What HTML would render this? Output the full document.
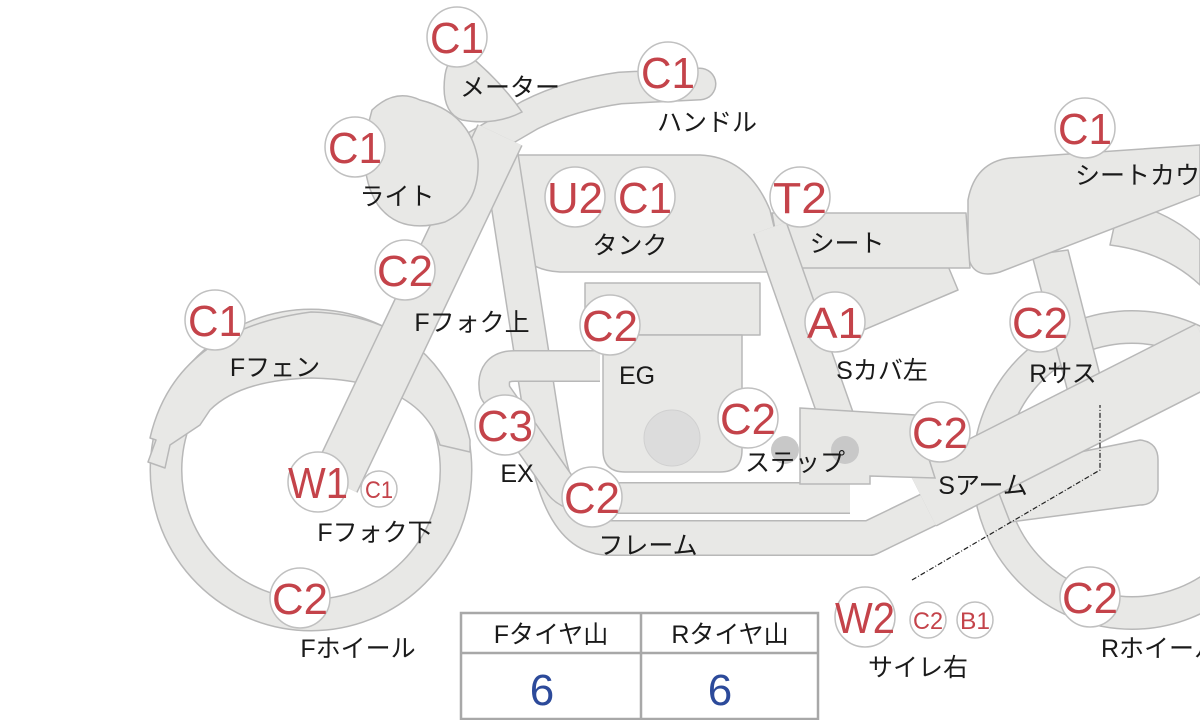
<!DOCTYPE html>
<html><head><meta charset="utf-8"><style>
html,body{margin:0;padding:0;background:#fff;}
svg{display:block;}
.b text{font-family:"Liberation Sans Narrow","Liberation Sans",sans-serif;fill:#c4434a;}
.l{font-family:"Liberation Sans","Noto Sans CJK JP",sans-serif;font-size:25px;fill:#1a1a1a;}
</style></head><body>
<svg width="1200" height="720" viewBox="0 0 1200 720" xmlns="http://www.w3.org/2000/svg">
<g fill="none" stroke-linejoin="round">
<circle cx="1132" cy="470" r="143" stroke="#b8b8b8" stroke-width="34"/>
<circle cx="1132" cy="470" r="143" stroke="#e8e8e6" stroke-width="31"/>
<circle cx="311" cy="470" r="145" stroke="#b8b8b8" stroke-width="33"/>
<circle cx="311" cy="470" r="145" stroke="#e8e8e6" stroke-width="30"/>
</g>
<g fill="#e8e8e6" stroke="#b8b8b8" stroke-width="1.5" stroke-linejoin="round">
<path d="M148,462 L156,440 L150,438 Q175,330 311,312 Q440,315 470,440 L470,452 L440,445 Q420,380 311,378 Q240,380 210,410 L200,425 L170,445 L165,468 Z"/>
<path d="M1120,200 Q1170,212 1200,240 L1200,285 Q1165,252 1110,245 Z"/>
<path d="M1032,255 L1068,250 L1105,395 L1070,400 Z"/>
<path d="M968,200 Q975,162 1010,158 L1200,145 L1200,195 L1000,272 Q972,280 968,255 Z"/>
<path d="M790,266 L948,266 L958,290 L840,340 L815,338 Z"/>
<path d="M772,213 L966,213 L970,268 L782,268 Z"/>
<path d="M513,155 L700,155 Q748,157 770,210 L785,272 L560,272 Q518,270 510,230 Z"/>
<rect x="585" y="283" width="175" height="52"/>
<path d="M603,335 L742,335 L742,450 Q742,472 720,472 L625,472 Q603,472 603,450 Z"/>
<path d="M990,470 L1140,440 Q1158,442 1158,460 L1158,490 Q1155,505 1140,505 L1010,522 Z"/>
</g>
<g fill="none" stroke-linecap="butt" stroke-linejoin="round">
<path d="M500,150 L545,440 Q560,538 610,538 L870,538 L965,492" stroke="#b8b8b8" stroke-width="36"/>
<path d="M500,150 L545,440 Q560,538 610,538 L870,538 L965,492" stroke="#e8e8e6" stroke-width="33"/>
<path d="M600,366 L515,366 Q490,366 495,392 L560,485 Q570,498 600,498 L850,498" stroke="#b8b8b8" stroke-width="32"/>
<path d="M600,366 L515,366 Q490,366 495,392 L560,485 Q570,498 600,498 L850,498" stroke="#e8e8e6" stroke-width="29"/>
<path d="M770,228 L855,470" stroke="#b8b8b8" stroke-width="36"/>
<path d="M770,228 L855,470" stroke="#e8e8e6" stroke-width="33"/>
<path d="M922,498 L1210,352" stroke="#b8b8b8" stroke-width="64"/>
<path d="M922,498 L1210,352" stroke="#e8e8e6" stroke-width="61"/>
<path d="M470,150 L530,115 Q570,95 620,88 L700,84" stroke="#b8b8b8" stroke-width="33" stroke-linecap="round"/>
<path d="M470,150 L530,115 Q570,95 620,88 L700,84" stroke="#e8e8e6" stroke-width="30" stroke-linecap="round"/>
<path d="M500,135 L335,482" stroke="#b8b8b8" stroke-width="50"/>
<path d="M500,135 L335,482" stroke="#e8e8e6" stroke-width="47"/>
</g>
<g fill="#e8e8e6" stroke="#b8b8b8" stroke-width="1.5">
<path d="M800,408 L915,415 L935,478 L870,476 L870,484 L800,484 Z"/>
<path d="M372,110 Q395,88 420,100 Q470,112 478,160 Q480,205 445,222 Q400,235 378,205 Q355,170 372,110 Z"/>
<path d="M445,75 Q448,55 465,52 Q500,80 522,112 Q495,126 462,120 Q440,112 445,75 Z"/>
</g>
<circle cx="672" cy="438" r="28" fill="#dcdcdc" stroke="#d0d0d0"/>
<circle cx="785" cy="450" r="14" fill="#c8c8c8"/>
<circle cx="845" cy="450" r="14" fill="#c8c8c8"/>
<path d="M912,580 L1100,470 L1100,405" fill="none" stroke="#222" stroke-width="1.2" stroke-dasharray="5,2,1,2"/>

<g class="b" stroke-width="1.5">
<g fill="#fff" stroke="#c0c0c0">
<circle cx="457" cy="37" r="30"/><circle cx="668" cy="72" r="30"/><circle cx="355" cy="147" r="30"/>
<circle cx="575" cy="197" r="30"/><circle cx="645" cy="197" r="30"/><circle cx="800" cy="197" r="30"/>
<circle cx="1085" cy="128" r="30"/><circle cx="405" cy="270" r="30"/><circle cx="215" cy="320" r="30"/>
<circle cx="610" cy="325" r="30"/><circle cx="835" cy="322" r="30"/><circle cx="1040" cy="322" r="30"/>
<circle cx="505" cy="425" r="30"/><circle cx="748" cy="418" r="30"/><circle cx="940" cy="432" r="30"/>
<circle cx="318" cy="482" r="30"/><circle cx="592" cy="497" r="30"/><circle cx="300" cy="598" r="30"/>
<circle cx="865" cy="617" r="30"/><circle cx="1090" cy="597" r="30"/>
<circle cx="379" cy="489" r="18"/><circle cx="928" cy="620" r="18"/><circle cx="975" cy="620" r="18"/>
</g>
<g font-size="44" text-anchor="middle" stroke="none">
<text x="457" y="53" textLength="54" lengthAdjust="spacingAndGlyphs">C1</text>
<text x="668" y="88" textLength="54" lengthAdjust="spacingAndGlyphs">C1</text>
<text x="355" y="163" textLength="54" lengthAdjust="spacingAndGlyphs">C1</text>
<text x="575" y="213" textLength="56" lengthAdjust="spacingAndGlyphs">U2</text>
<text x="645" y="213" textLength="54" lengthAdjust="spacingAndGlyphs">C1</text>
<text x="800" y="213" textLength="54" lengthAdjust="spacingAndGlyphs">T2</text>
<text x="1085" y="144" textLength="54" lengthAdjust="spacingAndGlyphs">C1</text>
<text x="405" y="286" textLength="56" lengthAdjust="spacingAndGlyphs">C2</text>
<text x="215" y="336" textLength="54" lengthAdjust="spacingAndGlyphs">C1</text>
<text x="610" y="341" textLength="56" lengthAdjust="spacingAndGlyphs">C2</text>
<text x="835" y="338" textLength="56" lengthAdjust="spacingAndGlyphs">A1</text>
<text x="1040" y="338" textLength="56" lengthAdjust="spacingAndGlyphs">C2</text>
<text x="505" y="441" textLength="56" lengthAdjust="spacingAndGlyphs">C3</text>
<text x="748" y="434" textLength="56" lengthAdjust="spacingAndGlyphs">C2</text>
<text x="940" y="448" textLength="56" lengthAdjust="spacingAndGlyphs">C2</text>
<text x="318" y="498" textLength="60" lengthAdjust="spacingAndGlyphs">W1</text>
<text x="592" y="513" textLength="56" lengthAdjust="spacingAndGlyphs">C2</text>
<text x="300" y="614" textLength="56" lengthAdjust="spacingAndGlyphs">C2</text>
<text x="865" y="633" textLength="60" lengthAdjust="spacingAndGlyphs">W2</text>
<text x="1090" y="613" textLength="56" lengthAdjust="spacingAndGlyphs">C2</text>
</g>
<g font-size="24" text-anchor="middle" stroke="none">
<text x="379" y="498" textLength="28" lengthAdjust="spacingAndGlyphs">C1</text>
<text x="928" y="629" textLength="30" lengthAdjust="spacingAndGlyphs">C2</text>
<text x="975" y="629" textLength="30" lengthAdjust="spacingAndGlyphs">B1</text>
</g>
</g>

<g class="l" text-anchor="middle">
<text x="510" y="96">メーター</text>
<text x="707" y="131">ハンドル</text>
<text x="397" y="205">ライト</text>
<text x="630" y="254">タンク</text>
<text x="847" y="252">シート</text>
<text x="1150" y="184">シートカウル</text>
<text x="472" y="331">Fフォク上</text>
<text x="275" y="376">Fフェン</text>
<text x="637" y="384">EG</text>
<text x="882" y="379">Sカバ左</text>
<text x="1063" y="382">Rサス</text>
<text x="517" y="482">EX</text>
<text x="795" y="471">ステップ</text>
<text x="983" y="494">Sアーム</text>
<text x="375" y="541">Fフォク下</text>
<text x="648" y="554">フレーム</text>
<text x="358" y="657">Fホイール</text>
<text x="918" y="676">サイレ右</text>
<text x="1160" y="657">Rホイール</text>
</g>

<g fill="none" stroke="#a8a8a8" stroke-width="2.5">
<rect x="461" y="613" width="357" height="106"/>
<line x1="461" y1="653" x2="818" y2="653"/>
<line x1="641" y1="613" x2="641" y2="719"/>
</g>
<g class="l" text-anchor="middle">
<text x="551" y="643">Fタイヤ山</text>
<text x="730" y="643">Rタイヤ山</text>
</g>
<g font-family="Liberation Sans,sans-serif" font-size="44" fill="#2c4a9a" text-anchor="middle">
<text x="542" y="705">6</text>
<text x="720" y="705">6</text>
</g>
</svg>
</body></html>
